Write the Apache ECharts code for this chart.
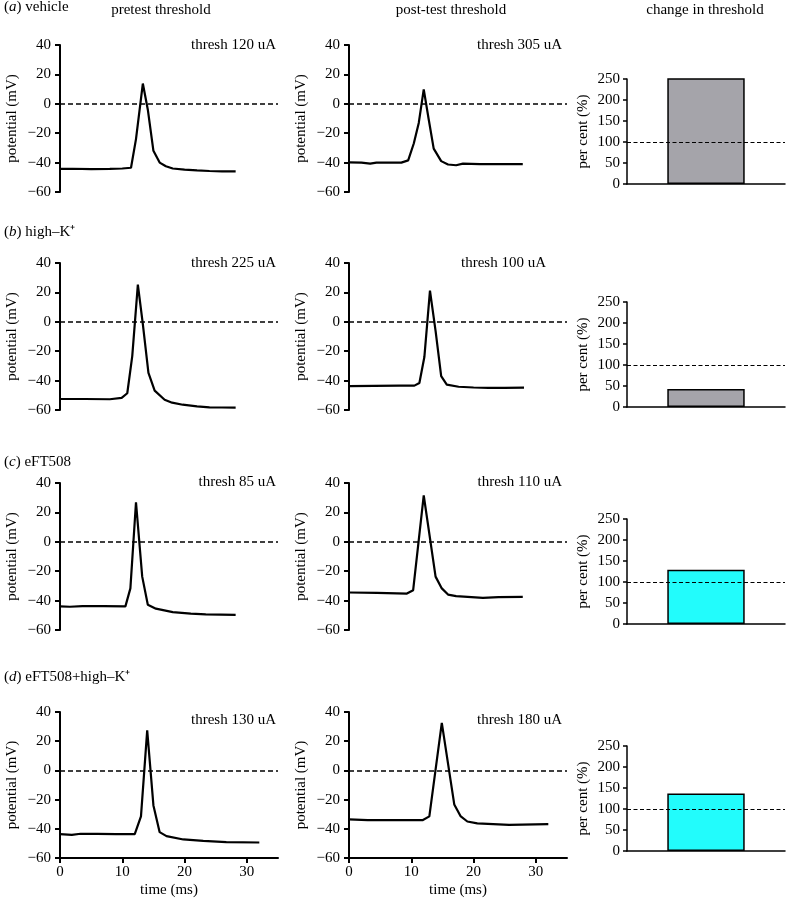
<!DOCTYPE html>
<html>
<head>
<meta charset="utf-8">
<script src="https://cdn.jsdelivr.net/npm/echarts@6/dist/echarts.min.js"></script>
<style>
  html, body { margin: 0; padding: 0; background: #fff; }
  #chart { width: 788px; height: 899px; }
</style>
</head>
<body>
<div id="chart"></div>
<script>
// traces: time (ms) and potential (mV)
var tAPre = [0, 2, 5, 8, 10, 11.4, 12.2, 13.3, 14.1, 15.0, 16.0, 17, 18.1, 20, 22, 24, 26, 28.2];
var vAPre = [-44.3, -44.2, -44.5, -44.3, -44, -43.5, -24, 13.8, -4, -32, -40, -42.5, -44, -44.8, -45.3, -45.7, -46, -46];
var tAPost = [0, 2, 3.4, 4.4, 6, 8.4, 9.5, 10.4, 11.2, 12.0, 12.8, 13.6, 14.8, 15.9, 17.2, 18.3, 21, 24, 27.9];
var vAPost = [-39.8, -40, -40.7, -40, -40, -40, -38.5, -27, -13, 9.8, -10.7, -30.5, -39, -41.3, -41.8, -40.7, -41, -41, -41];

var tBPre = [0, 4, 8, 9.9, 10.8, 11.6, 12.5, 13.3, 14.2, 15.2, 16.8, 18, 19.7, 22, 24, 26, 28.2];
var vBPre = [-52.5, -52.5, -52.7, -51.8, -48.6, -23.3, 25.3, -1.6, -34.7, -46.8, -53, -55, -56.4, -57.5, -58.2, -58.3, -58.4];
var tBPost = [0, 4, 8.1, 10.5, 11.3, 12.1, 13.0, 13.9, 14.8, 15.7, 17.6, 20, 22.4, 25, 28.1];
var vBPost = [-43.8, -43.6, -43.4, -43.4, -41.6, -24, 21.2, -6.2, -37, -42.7, -44.2, -44.7, -45, -45, -44.8];

var tCPre = [0, 1.6, 3.6, 7, 10.5, 11.3, 12.2, 13.2, 14.1, 15.4, 18.1, 21, 23.4, 28.2];
var vCPre = [-43.9, -44.2, -43.7, -43.8, -43.9, -31.7, 26.9, -23.7, -42.8, -45.5, -47.8, -48.8, -49.4, -49.7];
var tCPost = [0, 4.5, 9.3, 10.3, 12.0, 13.9, 14.9, 15.9, 17.2, 21.5, 24, 27.9];
var vCPost = [-34.5, -34.7, -35.2, -32.9, 31.5, -23.7, -31.7, -35.9, -37, -38.2, -37.6, -37.5];

var tDPre = [0, 1.9, 3.3, 6, 9, 12.0, 13.0, 14.0, 15.0, 16.0, 17.1, 19.8, 23, 26.7, 32];
var vDPre = [-43.7, -44.1, -43.4, -43.5, -43.6, -43.7, -31.5, 27.4, -24, -42.3, -45, -47.3, -48.3, -49.1, -49.4];
var tDPost = [0, 3.0, 7.3, 11.8, 12.9, 14.9, 16.9, 17.9, 19.0, 20.6, 25.7, 32];
var vDPost = [-33.6, -34.1, -34.1, -34.1, -31.5, 32.5, -23.3, -31.3, -35, -36.3, -37.3, -36.8];

// change in threshold (per cent)
var changePct = [253, 43, 129, 137];
var barColors = ['#a5a4aa', '#a5a4aa', '#22fcfc', '#22fcfc'];

var panelLabels = ['a', 'b', 'c', 'd'];
var panelNames = [' vehicle', ' high\u2013K\u207A', ' eFT508', ' eFT508+high\u2013K\u207A'];
var preThresh = ['thresh 120 uA', 'thresh 225 uA', 'thresh 85 uA', 'thresh 130 uA'];
var postThresh = ['thresh 305 uA', 'thresh 100 uA', 'thresh 110 uA', 'thresh 180 uA'];

var traces = [
  [[tAPre, vAPre], [tAPost, vAPost]],
  [[tBPre, vBPre], [tBPost, vBPost]],
  [[tCPre, vCPre], [tCPost, vCPost]],
  [[tDPre, vDPre], [tDPost, vDPost]]
];

var FONT = 'Liberation Serif';
var FS = 15;
var rowTop = [45, 263, 483, 712];
var barTop = [79, 302, 519, 746];
var labelY = [9, 234, 464, 679];
var threshY = [45, 263, 482, 720];

function zip(t, v) {
  return t.map(function (x, i) { return [x, v[i]]; });
}

var grids = [], xAxes = [], yAxes = [], series = [], graphics = [];

for (var r = 0; r < 4; r++) {
  var last = r === 3;
  // two trace plots
  [60, 349].forEach(function (left, c) {
    var idx = grids.length;
    grids.push({ left: left, top: rowTop[r], width: 218, height: 147 });
    xAxes.push({
      gridIndex: idx, type: 'value', min: 0, max: 35, interval: 10,
      show: last,
      name: 'time (ms)', nameLocation: 'middle', nameGap: 25,
      nameTextStyle: { fontFamily: FONT, fontSize: FS, color: '#000' },
      axisLine: { onZero: false, lineStyle: { color: '#000', width: 2 } },
      axisTick: { length: 5, lineStyle: { color: '#000', width: 2 } },
      axisLabel: { fontFamily: FONT, fontSize: FS, color: '#000', margin: 7, showMaxLabel: false },
      splitLine: { show: false }
    });
    yAxes.push({
      gridIndex: idx, type: 'value', min: -60, max: 40, interval: 20,
      name: 'potential (mV)', nameLocation: 'middle', nameGap: 40,
      nameTextStyle: { fontFamily: FONT, fontSize: FS, color: '#000' },
      axisLine: { show: true, onZero: false, lineStyle: { color: '#000', width: 2 } },
      axisTick: { show: true, length: 5, lineStyle: { color: '#000', width: 2 } },
      axisLabel: { fontFamily: FONT, fontSize: FS, color: '#000', margin: 9,
        formatter: function (v) { return v < 0 ? '\u2212' + Math.abs(v) : v; } },
      splitLine: { show: false }
    });
    var tr = traces[r][c];
    series.push({
      type: 'line', xAxisIndex: idx, yAxisIndex: idx,
      data: zip(tr[0], tr[1]), showSymbol: false, symbol: 'none',
      lineStyle: { color: '#000', width: 2.2 },
      silent: true, animation: false,
      markLine: {
        silent: true, symbol: 'none', label: { show: false },
        lineStyle: { color: '#000', width: 1.7, type: [5, 3] },
        data: [{ yAxis: 0 }]
      }
    });
  });

  // bar plot
  var bIdx = grids.length;
  grids.push({ left: 627, top: barTop[r], width: 158, height: 105 });
  xAxes.push({
    gridIndex: bIdx, type: 'category', data: [''],
    axisLine: { lineStyle: { color: '#000', width: 1.5 } },
    axisTick: { alignWithLabel: true, length: 4, lineStyle: { color: '#000', width: 1.5 } },
    axisLabel: { show: false }
  });
  yAxes.push({
    gridIndex: bIdx, type: 'value', min: 0, max: 250, interval: 50,
    name: 'per cent (%)', nameLocation: 'middle', nameGap: 36,
    nameTextStyle: { fontFamily: FONT, fontSize: FS, color: '#000' },
    axisLine: { show: true, lineStyle: { color: '#000', width: 1.5 } },
    axisTick: { show: true, length: 4, lineStyle: { color: '#000', width: 1.5 } },
    axisLabel: { fontFamily: FONT, fontSize: FS, color: '#000', margin: 7 },
    splitLine: { show: false }
  });
  // reference line at 100 % drawn beneath the bar
  series.push({
    type: 'line', xAxisIndex: bIdx, yAxisIndex: bIdx, data: [], z: 1,
    silent: true, animation: false,
    markLine: {
      silent: true, symbol: 'none', label: { show: false },
      lineStyle: { color: '#000', width: 1, type: [4, 2.5] },
      data: [{ yAxis: 100 }]
    }
  });
  series.push({
    type: 'bar', xAxisIndex: bIdx, yAxisIndex: bIdx, z: 3,
    data: [changePct[r]], barWidth: '49%', silent: true, animation: false,
    itemStyle: { color: barColors[r], borderColor: '#000', borderWidth: 1.5 }
  });

  // panel label and threshold texts
  graphics.push({
    type: 'text', left: 4, top: labelY[r] - 9,
    style: {
      text: '({i|' + panelLabels[r] + '})' + panelNames[r],
      font: FS + 'px "' + FONT + '"', fill: '#000',
      rich: { i: { fontStyle: 'italic', fontFamily: FONT, fontSize: FS, fill: '#000' } }
    }
  });
  graphics.push({
    type: 'text', x: 276, y: threshY[r],
    style: { text: preThresh[r], font: FS + 'px "' + FONT + '"', fill: '#000', align: 'right', verticalAlign: 'middle' }
  });
  graphics.push({
    type: 'text', x: r === 1 ? 546 : 562, y: threshY[r],
    style: { text: postThresh[r], font: FS + 'px "' + FONT + '"', fill: '#000', align: 'right', verticalAlign: 'middle' }
  });
}

// column headers
[['pretest threshold', 161], ['post-test threshold', 451], ['change in threshold', 705]].forEach(function (h) {
  graphics.push({
    type: 'text', x: h[1], y: 10,
    style: { text: h[0], font: FS + 'px "' + FONT + '"', fill: '#000', align: 'center', verticalAlign: 'middle' }
  });
});

var option = {
  animation: false,
  textStyle: { fontFamily: FONT },
  grid: grids,
  xAxis: xAxes,
  yAxis: yAxes,
  series: series,
  graphic: graphics
};

var myChart = echarts.init(document.getElementById('chart'));
myChart.setOption(option);
</script>
</body>
</html>
